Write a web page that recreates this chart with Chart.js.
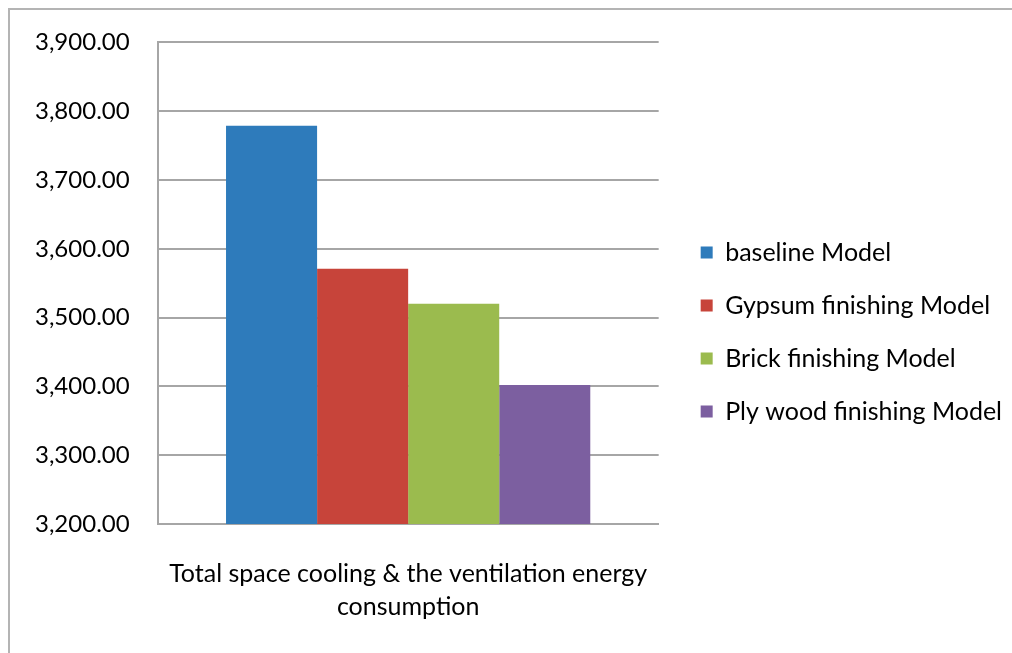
<!DOCTYPE html>
<html>
<head>
<meta charset="utf-8">
<script src="https://cdn.jsdelivr.net/npm/chart.js@4"></script>
<style>
  html, body { margin: 0; padding: 0; background: #fff; overflow: hidden; }
  #frame { position: absolute; left: 8px; top: 8px; width: 1100px; height: 700px;
           border-left: 2px solid #b4b4b4; border-top: 2px solid #b4b4b4; }
  #wrap { position: absolute; left: 0; top: 0; width: 1012px; height: 653px; }
</style>
</head>
<body>
<div id="frame"></div>
<div id="wrap"><canvas id="chart"></canvas></div>
<script>
// datos
const categorias = [['Total space cooling & the ventilation energy', 'consumption']];
const series = ['baseline Model', 'Gypsum finishing Model', 'Brick finishing Model', 'Ply wood finishing Model'];
const valores = [[3779], [3571], [3520], [3402]];
const colores = ['#2E7BBB', '#C7443A', '#9BBB4E', '#7C5FA0'];
const yMin = 3200, yMax = 3900, yPaso = 100;

const fuente = 'Lato, "Liberation Sans", sans-serif';

const datasets = series.map((nombre, i) => ({
  label: nombre,
  data: valores[i],
  backgroundColor: colores[i],
  borderWidth: 0,
  categoryPercentage: 0.727,
  barPercentage: 1.0
}));

new Chart(document.getElementById('chart'), {
  type: 'bar',
  data: { labels: categorias, datasets: datasets },
  options: {
    responsive: true,
    maintainAspectRatio: false,
    animation: false,
    layout: { padding: { left: 7, top: 8, right: 0, bottom: -3 } },
    plugins: {
      tooltip: { enabled: false },
      // titulo vacio, solo para bajar el area del grafico sin mover la leyenda
      title: {
        display: true,
        text: '',
        fullSize: false,
        padding: 0,
        font: { size: 28, lineHeight: 1.2 }
      },
      legend: {
        position: 'right',
        maxWidth: 420,
        labels: {
          boxWidth: 12,
          boxHeight: 12,
          padding: 28,
          color: '#000',
          font: { family: fuente, size: 25 }
        }
      }
    },
    scales: {
      x: {
        grid: { display: false, drawTicks: false },
        border: { display: true, color: '#a6a6a6', width: 2 },
        ticks: {
          color: '#000',
          padding: 33,
          maxRotation: 0,
          font: { family: fuente, size: 25, lineHeight: 1.32 }
        }
      },
      y: {
        min: yMin,
        max: yMax,
        grid: { color: '#a6a6a6', lineWidth: 2, drawTicks: false },
        border: { display: true, color: '#a6a6a6', width: 2 },
        ticks: {
          stepSize: yPaso,
          padding: 28,
          color: '#000',
          font: { family: fuente, size: 24 },
          callback: v => v.toLocaleString('en-US', { minimumFractionDigits: 2, maximumFractionDigits: 2 })
        }
      },
      y2: {
        position: 'right',
        display: true,
        grid: { display: false, drawTicks: false },
        border: { display: false },
        ticks: { display: false },
        afterFit: s => { s.width = 14; }
      }
    }
  }
});
</script>
</body>
</html>
